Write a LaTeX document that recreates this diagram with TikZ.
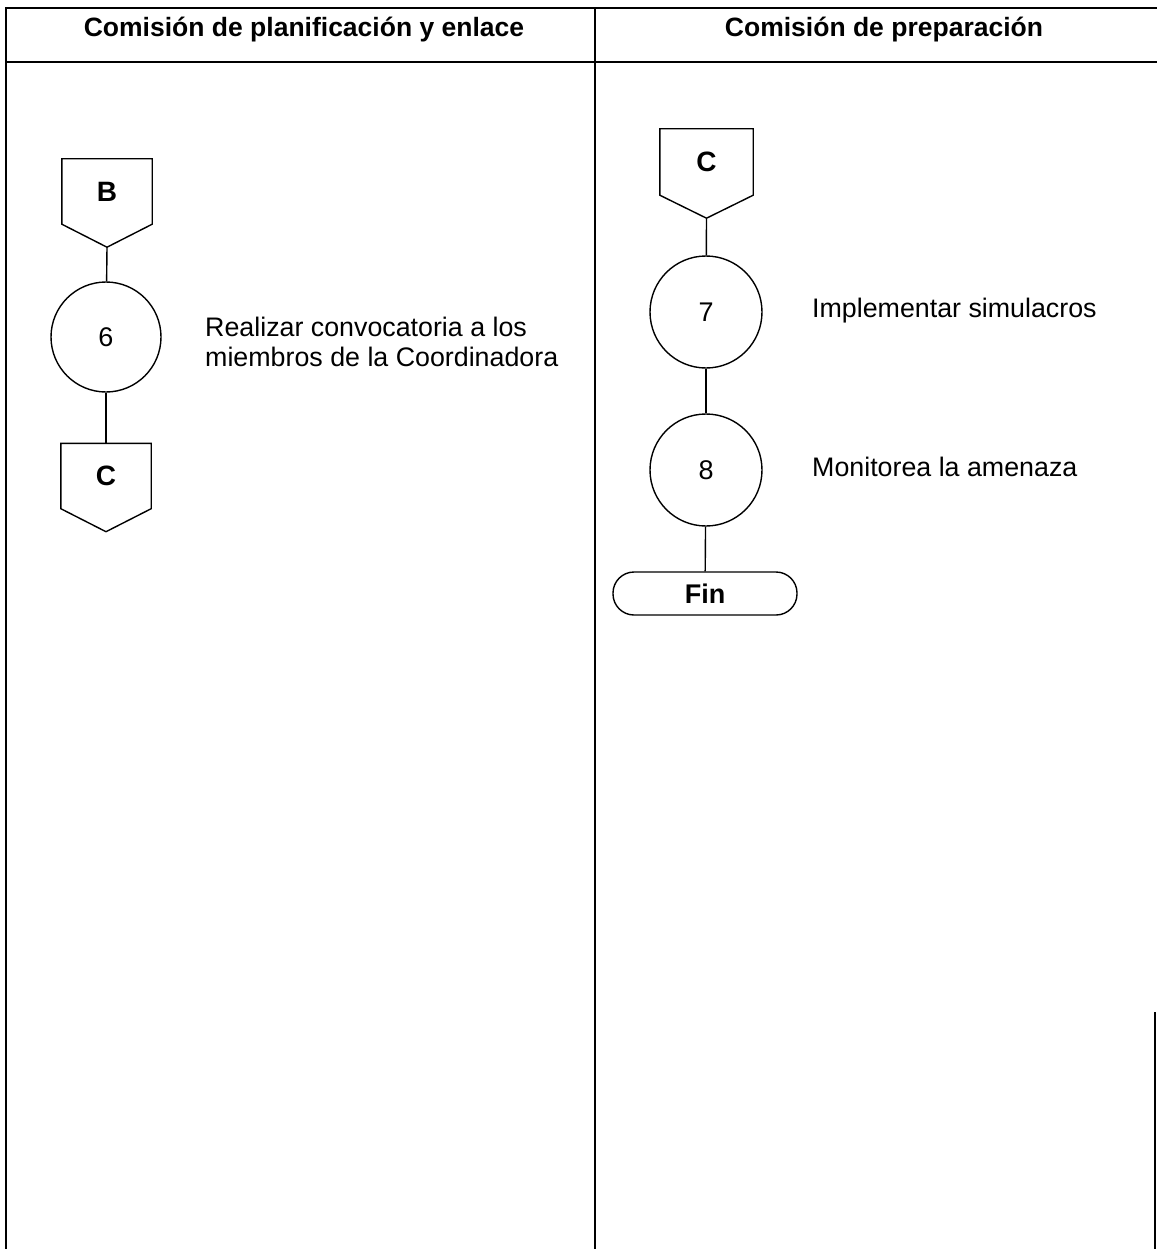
\documentclass[tikz,border=0pt]{standalone}
\usepackage{fontspec}
\setmainfont{Liberation Sans}
\begin{document}
\begin{tikzpicture}[x=1pt,y=-1pt,
  tbl/.style={line width=2.2pt},
  conn/.style={line width=1.4pt},
  hdr/.style={font=\fontsize{26.5}{30}\selectfont\bfseries, inner sep=0pt, anchor=base},
  lbl/.style={font=\fontsize{26.8}{30}\selectfont, inner sep=0pt, align=left},
  procnode/.style={circle, draw, line width=1.4pt, minimum size=110pt, inner sep=0pt, font=\fontsize{27}{30}\selectfont},
  offbox/.style={rectangle, minimum width=90pt, minimum height=65pt, inner sep=0pt, font=\fontsize{28}{30}\selectfont\bfseries},
  termnode/.style={rectangle, draw, line width=1.4pt, rounded corners=21pt, minimum width=184pt, minimum height=43pt, inner sep=0pt, font=\fontsize{27}{30}\selectfont\bfseries}]
\useasboundingbox (0,0) rectangle (1157,1249);
\fill[white] (0,0) rectangle (1157,1249);
% table frame
\draw[tbl] (5,8) -- (1157,8);
\draw[tbl] (5,62) -- (1157,62);
\draw[tbl] (6,8) -- (6,1249);
\draw[tbl] (595,8) -- (595,1249);
\draw[tbl] (1155,1012) -- (1155,1249);
% headers
\node[hdr] (h1) at (304,37) {Comisión de planificación y enlace};
\node[hdr] (h2) at (884,37) {Comisión de preparación};
% left column
\node[offbox] (B) at (107,191.5) {B};
\coordinate (Btip) at ([yshift=-23pt]B.south);
\draw[conn] (B.north west) -- (B.north east) -- (B.south east) -- (Btip) -- (B.south west) -- cycle;
\node[procnode] (p6) at (106,337) {6};
\node[offbox] (C1) at (106,476) {C};
\coordinate (C1tip) at ([yshift=-23pt]C1.south);
\draw[conn] (C1.north west) -- (C1.north east) -- (C1.south east) -- (C1tip) -- (C1.south west) -- cycle;
\draw[conn] (Btip) -- (p6);
\draw[conn] (p6) -- (C1.north);
\node[lbl, anchor=west] (t6) at (205,342) {Realizar convocatoria a los\\miembros de la Coordinadora};
% right column
\node[offbox, minimum width=93pt, minimum height=66pt] (C2) at (706.5,162) {C};
\coordinate (C2tip) at ([yshift=-23pt]C2.south);
\draw[conn] (C2.north west) -- (C2.north east) -- (C2.south east) -- (C2tip) -- (C2.south west) -- cycle;
\node[procnode, minimum size=112pt] (p7) at (706,312) {7};
\node[procnode, minimum size=112pt] (p8) at (706,470) {8};
\node[termnode] (fin) at (705,593.5) {Fin};
\draw[conn] (C2tip) -- (p7);
\draw[conn] (p7) -- (p8);
\draw[conn] (p8) -- (fin);
\node[lbl, anchor=base west] (t7) at (812,317) {Implementar simulacros};
\node[lbl, anchor=base west] (t8) at (812,476) {Monitorea la amenaza};
\end{tikzpicture}
\end{document}
